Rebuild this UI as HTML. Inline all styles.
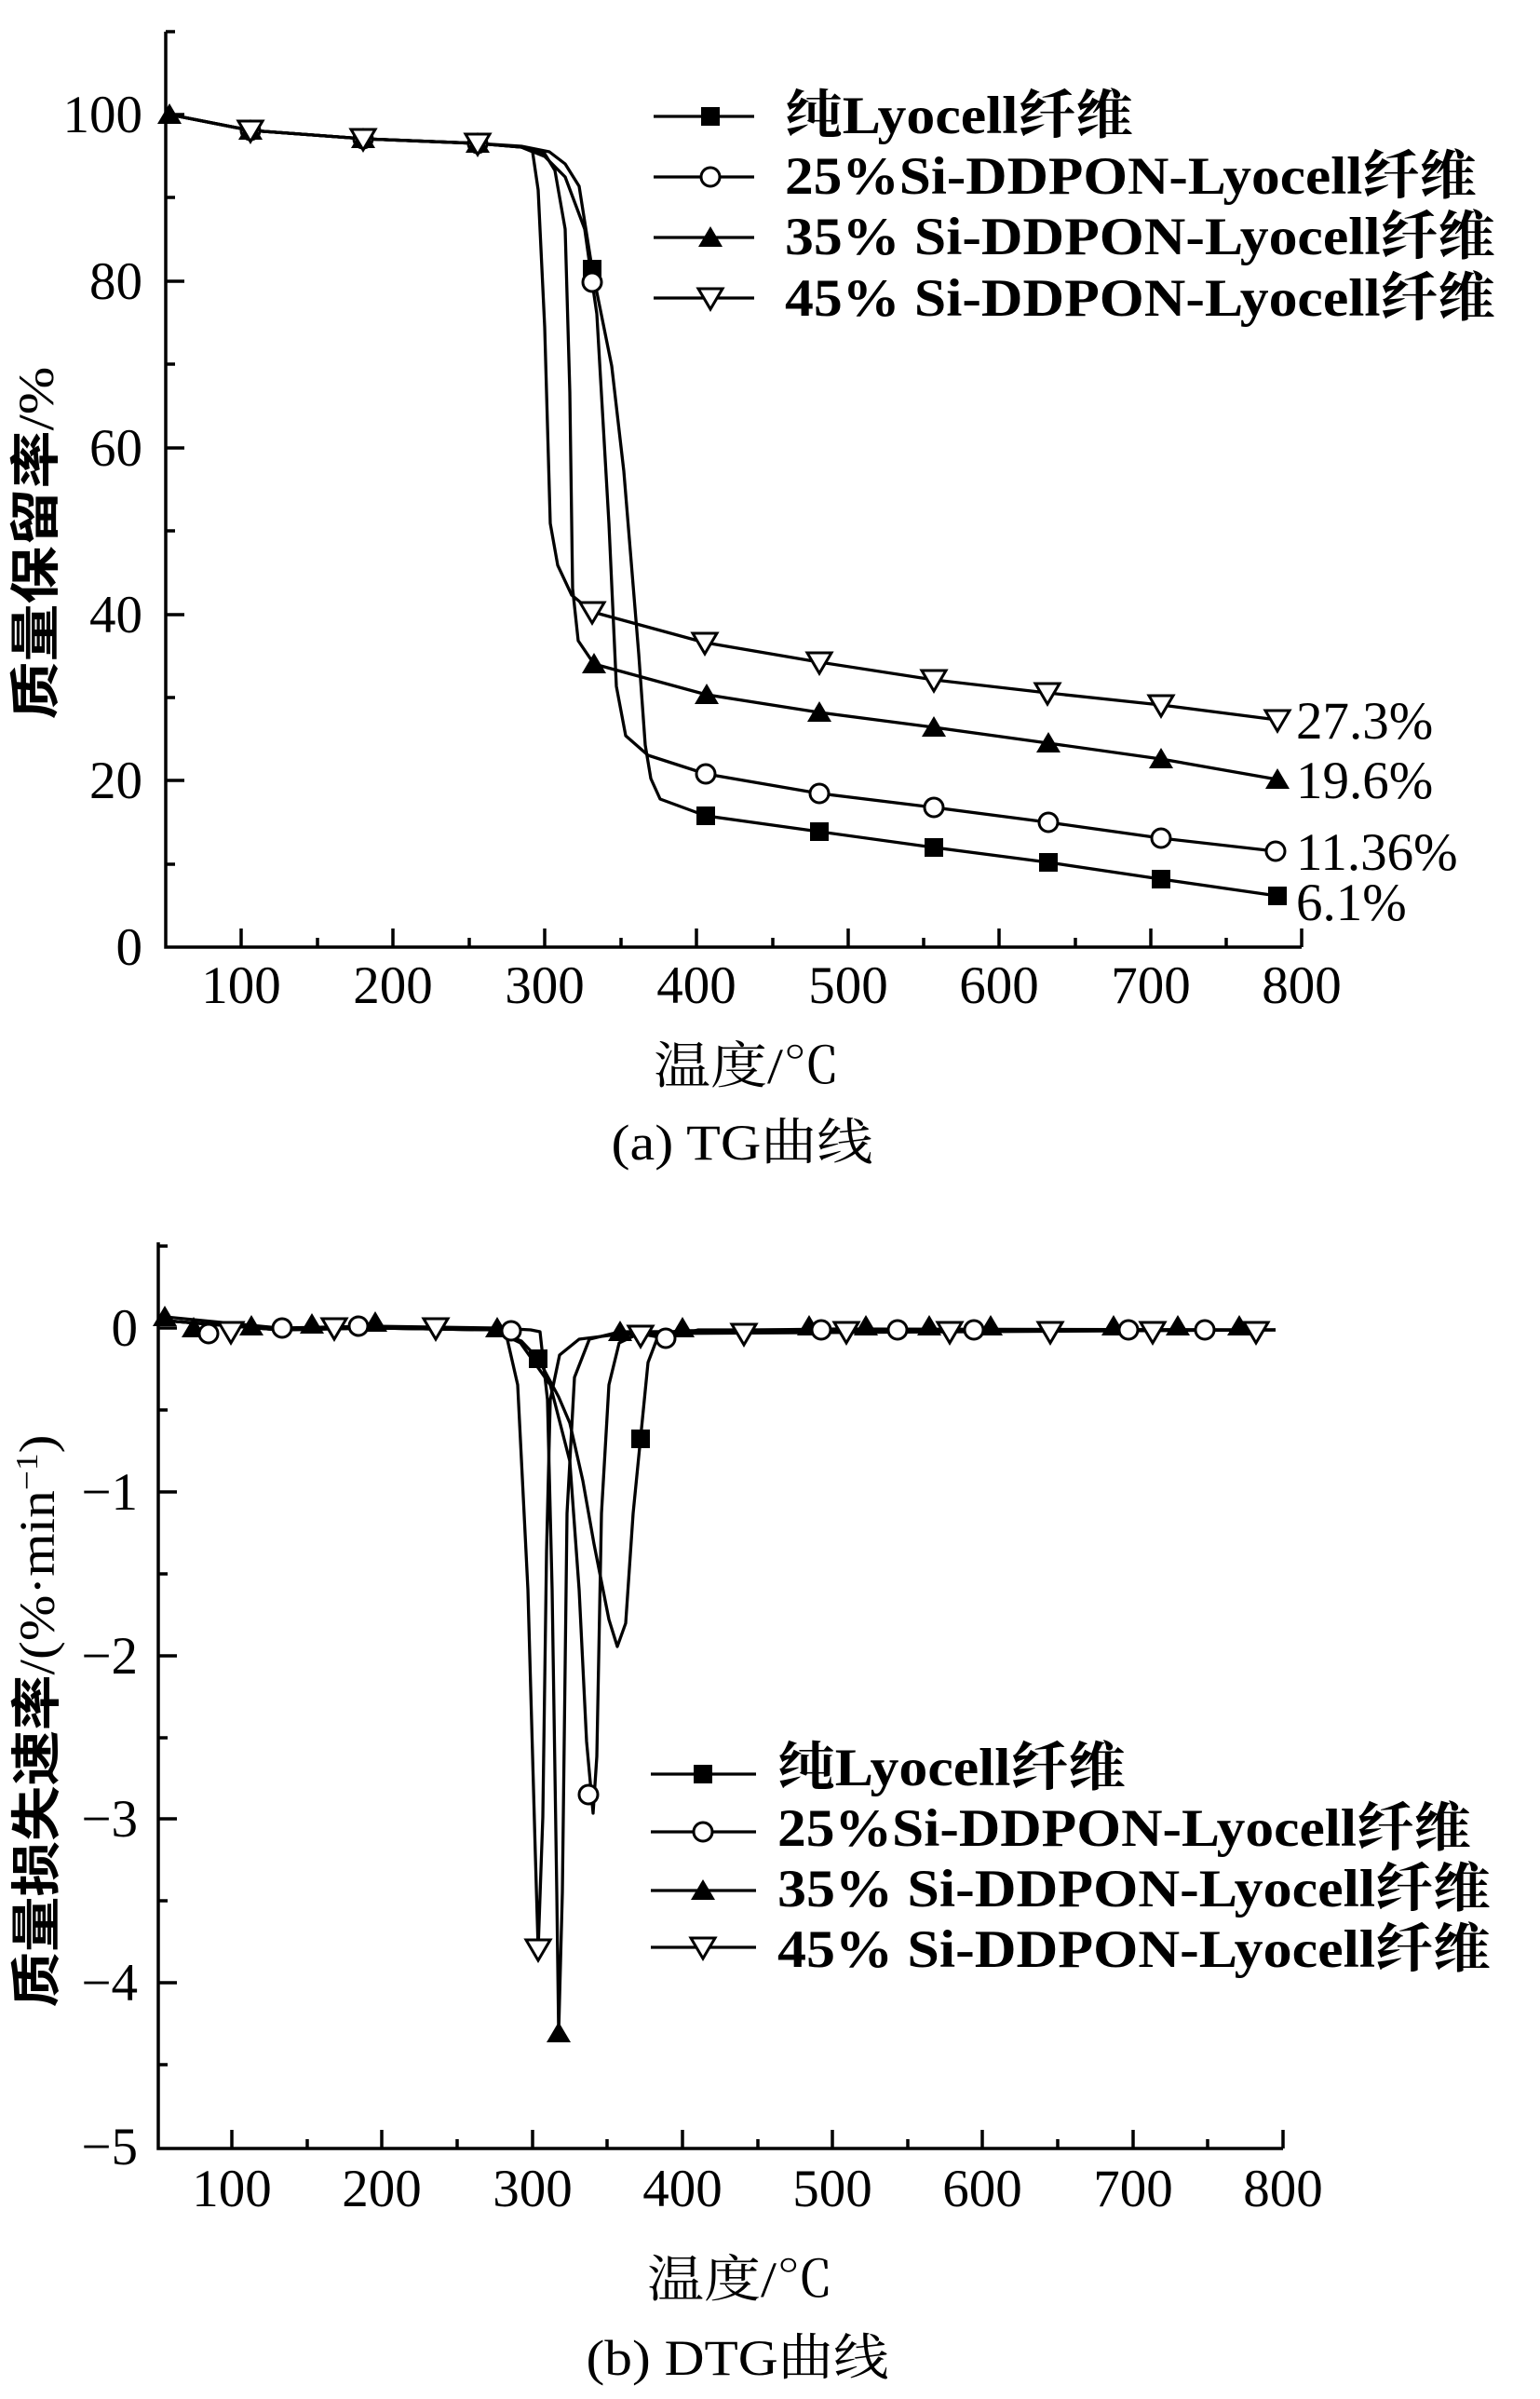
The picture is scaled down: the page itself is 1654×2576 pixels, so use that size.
<!DOCTYPE html>
<html><head><meta charset="utf-8"><style>
html,body{margin:0;padding:0;background:#fff;}
svg{display:block;}
.t{font-family:"Liberation Serif","Noto Serif CJK SC",serif;font-size:57px;fill:#000;}
.lg{font-family:"Liberation Serif","Noto Serif CJK SC",serif;font-weight:bold;font-size:57px;fill:#000;}
.cj{font-family:"Liberation Serif","Noto Serif CJK SC",serif;font-size:54px;fill:#000;}
.yt{font-family:"Liberation Serif","Noto Sans CJK SC",sans-serif;font-size:54px;font-weight:bold;fill:#000;}
.ys{font-family:"Liberation Serif",serif;font-weight:normal;font-size:54px;}
</style></head><body>
<svg width="1654" height="2576" viewBox="0 0 1654 2576" xmlns="http://www.w3.org/2000/svg">
<defs>
<rect id="sq" x="-10" y="-10" width="20" height="20" fill="#000"/>
<circle id="ci" r="10" fill="#fff" stroke="#000" stroke-width="3"/>
<polygon id="tu" points="0,-12 13,10 -13,10" fill="#000"/>
<polygon id="td" points="-13,-10 13,-10 0,12" fill="#fff" stroke="#000" stroke-width="3" stroke-linejoin="miter"/>
</defs>

<!-- ================= TOP (TG) ================= -->
<g stroke="#000" stroke-width="3.5" fill="none">
<polyline points="178,34 178,1017 1398,1017"/>
</g>
<g stroke="#000" stroke-width="3.5">
<line x1="259" y1="1017" x2="259" y2="997"/><line x1="422" y1="1017" x2="422" y2="997"/><line x1="585" y1="1017" x2="585" y2="997"/><line x1="748" y1="1017" x2="748" y2="997"/><line x1="911" y1="1017" x2="911" y2="997"/><line x1="1073" y1="1017" x2="1073" y2="997"/><line x1="1236" y1="1017" x2="1236" y2="997"/><line x1="1398" y1="1017" x2="1398" y2="997"/>
<line x1="341" y1="1017" x2="341" y2="1007"/><line x1="504" y1="1017" x2="504" y2="1007"/><line x1="667" y1="1017" x2="667" y2="1007"/><line x1="830" y1="1017" x2="830" y2="1007"/><line x1="992" y1="1017" x2="992" y2="1007"/><line x1="1155" y1="1017" x2="1155" y2="1007"/><line x1="1317" y1="1017" x2="1317" y2="1007"/>
<line x1="178" y1="123" x2="198" y2="123"/><line x1="178" y1="302" x2="198" y2="302"/><line x1="178" y1="481" x2="198" y2="481"/><line x1="178" y1="660" x2="198" y2="660"/><line x1="178" y1="838" x2="198" y2="838"/>
<line x1="178" y1="34" x2="188" y2="34"/><line x1="178" y1="212" x2="188" y2="212"/><line x1="178" y1="391" x2="188" y2="391"/><line x1="178" y1="570" x2="188" y2="570"/><line x1="178" y1="749" x2="188" y2="749"/><line x1="178" y1="928" x2="188" y2="928"/>
</g>
<g class="t" text-anchor="middle">
<text x="259" y="1077">100</text><text x="422" y="1077">200</text><text x="585" y="1077">300</text><text x="748" y="1077">400</text><text x="911" y="1077">500</text><text x="1073" y="1077">600</text><text x="1236" y="1077">700</text><text x="1398" y="1077">800</text>
</g>
<g class="t" text-anchor="end">
<text x="153" y="142">100</text><text x="153" y="321">80</text><text x="153" y="500">60</text><text x="153" y="679">40</text><text x="153" y="857">20</text><text x="153" y="1036">0</text>
</g>
<text class="yt" transform="translate(57,583) rotate(-90)" text-anchor="middle" textLength="379" lengthAdjust="spacingAndGlyphs">质量保留率<tspan class="ys">/%</tspan></text>

<g stroke="#000" stroke-width="3.3" fill="none" stroke-linejoin="round">
<polyline points="182,123 269,140 390,149 513,154 560,157 590,163 607,176 622,200 636,289 657,393 670,506 686,702 693,800 699,836 709,858 758,876 880,893 1003,910 1126,926 1247,944 1372,962"/>
<polyline points="182,123 269,140 390,149 513,154 560,158 585,168 607,190 628,246 636,303 641,337 654,562 662,737 672,790 696,811 758,831 880,852 1003,867 1126,883 1247,900 1370,914"/>
<polyline points="182,123 269,140 390,149 513,154 560,158 585,165 596,183 607,246 612,421 615,632 621,688 638,713 759,746 880,765 1003,781 1126,798 1247,815 1372,837"/>
<polyline points="182,123 269,140 390,149 513,154 560,158 572,163 578,204 585,351 591,562 599,607 614,639 636,657 757,690 880,711 1003,730 1125,744 1247,757 1372,773"/>
</g>
<use href="#tu" x="182" y="123"/>
<use href="#sq" x="636" y="289"/><use href="#sq" x="758" y="876"/><use href="#sq" x="880" y="893"/><use href="#sq" x="1003" y="910"/><use href="#sq" x="1126" y="926"/><use href="#sq" x="1247" y="944"/><use href="#sq" x="1372" y="962"/>
<use href="#ci" x="269" y="140"/><use href="#ci" x="390" y="149"/><use href="#ci" x="513" y="154"/><use href="#ci" x="636" y="303"/><use href="#ci" x="758" y="831"/><use href="#ci" x="880" y="852"/><use href="#ci" x="1003" y="867"/><use href="#ci" x="1126" y="883"/><use href="#ci" x="1247" y="900"/><use href="#ci" x="1370" y="914"/>
<use href="#tu" x="269" y="140"/><use href="#tu" x="390" y="149"/><use href="#tu" x="513" y="154"/><use href="#tu" x="638" y="713"/><use href="#tu" x="759" y="746"/><use href="#tu" x="880" y="765"/><use href="#tu" x="1003" y="781"/><use href="#tu" x="1126" y="798"/><use href="#tu" x="1247" y="815"/><use href="#tu" x="1372" y="837"/>
<use href="#td" x="269" y="140"/><use href="#td" x="390" y="149"/><use href="#td" x="513" y="154"/><use href="#td" x="636" y="657"/><use href="#td" x="757" y="690"/><use href="#td" x="880" y="711"/><use href="#td" x="1003" y="730"/><use href="#td" x="1125" y="744"/><use href="#td" x="1247" y="757"/><use href="#td" x="1372" y="773"/>
<g class="t">
<text x="1392" y="793">27.3%</text><text x="1392" y="857">19.6%</text><text x="1392" y="934">11.36%</text><text x="1392" y="988">6.1%</text>
</g>
<g stroke="#000" stroke-width="3.3">
<line x1="702" y1="125" x2="810" y2="125"/><line x1="702" y1="190" x2="810" y2="190"/><line x1="702" y1="255" x2="810" y2="255"/><line x1="702" y1="320" x2="810" y2="320"/>
</g>
<use href="#sq" x="763" y="125"/><use href="#ci" x="763" y="190"/><use href="#tu" x="763" y="255"/><use href="#td" x="763" y="320"/>
<g class="lg">
<text x="843" y="143" textLength="374" lengthAdjust="spacingAndGlyphs">纯Lyocell纤维</text>
<text x="843" y="208" textLength="743" lengthAdjust="spacingAndGlyphs">25%Si-DDPON-Lyocell纤维</text>
<text x="843" y="273" textLength="763" lengthAdjust="spacingAndGlyphs">35% Si-DDPON-Lyocell纤维</text>
<text x="843" y="339" textLength="763" lengthAdjust="spacingAndGlyphs">45% Si-DDPON-Lyocell纤维</text>
</g>
<text class="cj" x="802" y="1163" text-anchor="middle" textLength="200" lengthAdjust="spacingAndGlyphs">温度/℃</text>
<text class="cj" x="797" y="1245" text-anchor="middle" textLength="281" lengthAdjust="spacingAndGlyphs">(a) TG曲线</text>

<!-- ================= BOTTOM (DTG) ================= -->
<g stroke="#000" stroke-width="3.5" fill="none">
<polyline points="170,1334 170,2307 1378,2307"/>
</g>
<g stroke="#000" stroke-width="3.5">
<line x1="249" y1="2307" x2="249" y2="2287"/><line x1="410" y1="2307" x2="410" y2="2287"/><line x1="572" y1="2307" x2="572" y2="2287"/><line x1="733" y1="2307" x2="733" y2="2287"/><line x1="894" y1="2307" x2="894" y2="2287"/><line x1="1055" y1="2307" x2="1055" y2="2287"/><line x1="1217" y1="2307" x2="1217" y2="2287"/><line x1="1378" y1="2307" x2="1378" y2="2287"/>
<line x1="330" y1="2307" x2="330" y2="2297"/><line x1="491" y1="2307" x2="491" y2="2297"/><line x1="652" y1="2307" x2="652" y2="2297"/><line x1="814" y1="2307" x2="814" y2="2297"/><line x1="975" y1="2307" x2="975" y2="2297"/><line x1="1136" y1="2307" x2="1136" y2="2297"/><line x1="1297" y1="2307" x2="1297" y2="2297"/>
<line x1="170" y1="1426" x2="190" y2="1426"/><line x1="170" y1="1602" x2="190" y2="1602"/><line x1="170" y1="1778" x2="190" y2="1778"/><line x1="170" y1="1953" x2="190" y2="1953"/><line x1="170" y1="2129" x2="190" y2="2129"/>
<line x1="170" y1="1338" x2="180" y2="1338"/><line x1="170" y1="1514" x2="180" y2="1514"/><line x1="170" y1="1690" x2="180" y2="1690"/><line x1="170" y1="1866" x2="180" y2="1866"/><line x1="170" y1="2041" x2="180" y2="2041"/><line x1="170" y1="2217" x2="180" y2="2217"/>
</g>
<g class="t" text-anchor="middle">
<text x="249" y="2369">100</text><text x="410" y="2369">200</text><text x="572" y="2369">300</text><text x="733" y="2369">400</text><text x="894" y="2369">500</text><text x="1055" y="2369">600</text><text x="1217" y="2369">700</text><text x="1378" y="2369">800</text>
</g>
<g class="t" text-anchor="end">
<text x="148" y="1445">0</text><text x="148" y="1621">−1</text><text x="148" y="1797">−2</text><text x="148" y="1972">−3</text><text x="148" y="2148">−4</text><text x="148" y="2324">−5</text>
</g>
<text class="yt" transform="translate(58,1848) rotate(-90)" text-anchor="middle" textLength="615" lengthAdjust="spacingAndGlyphs">质量损失速率<tspan class="ys">/(%·min<tspan font-size="34" dy="-18">−1</tspan><tspan dy="18">)</tspan></tspan></text>

<g stroke="#000" stroke-width="3.3" fill="none" stroke-linejoin="round">
<polyline points="177,1418 300,1428 400,1426 530,1428 543,1433 560,1440 578,1459 600,1500 612,1528 626,1590 638,1658 654,1739 663,1768 672,1743 680,1625 688,1544 696,1463 707,1434 728,1429 900,1427 1370,1428"/>
<polyline points="177,1418 300,1428 400,1426 530,1428 559,1442 591,1487 612,1569 622,1707 630,1870 637,1947 641,1886 646,1625 654,1487 665,1442 686,1432 715,1437 750,1428 1370,1428"/>
<polyline points="177,1414 300,1426 400,1424 534,1426 570,1428 580,1430 588,1503 593,1707 598,2032 600,2183 604,2032 609,1625 617,1479 633,1438 666,1430 1370,1428"/>
<polyline points="177,1418 300,1428 400,1426 530,1428 543,1430 556,1487 567,1707 575,1992 578,2093 583,1951 587,1666 591,1503 601,1455 622,1438 654,1434 700,1432 1370,1428"/>
</g>
<use href="#tu" x="177" y="1414"/><use href="#tu" x="208" y="1426"/><use href="#tu" x="270" y="1424"/><use href="#tu" x="335" y="1422"/><use href="#tu" x="403" y="1420"/><use href="#tu" x="534" y="1426"/><use href="#tu" x="600" y="2183"/><use href="#tu" x="666" y="1430"/><use href="#tu" x="733" y="1426"/><use href="#tu" x="869" y="1424"/><use href="#tu" x="930" y="1424"/><use href="#tu" x="998" y="1424"/><use href="#tu" x="1064" y="1424"/><use href="#tu" x="1196" y="1424"/><use href="#tu" x="1265" y="1424"/><use href="#tu" x="1331" y="1424"/>
<use href="#ci" x="224" y="1432"/><use href="#ci" x="303" y="1426"/><use href="#ci" x="385" y="1424"/><use href="#ci" x="549" y="1429"/><use href="#ci" x="632" y="1927"/><use href="#ci" x="715" y="1437"/><use href="#ci" x="882" y="1428"/><use href="#ci" x="964" y="1428"/><use href="#ci" x="1046" y="1428"/><use href="#ci" x="1212" y="1428"/><use href="#ci" x="1294" y="1428"/>
<use href="#td" x="248" y="1430"/><use href="#td" x="359" y="1426"/><use href="#td" x="468" y="1426"/><use href="#td" x="578" y="2093"/><use href="#td" x="688" y="1434"/><use href="#td" x="799" y="1432"/><use href="#td" x="909" y="1430"/><use href="#td" x="1020" y="1430"/><use href="#td" x="1128" y="1430"/><use href="#td" x="1238" y="1430"/><use href="#td" x="1349" y="1430"/>
<use href="#sq" x="578" y="1459"/><use href="#sq" x="688" y="1545"/>
<g stroke="#000" stroke-width="3.3">
<line x1="699" y1="1905" x2="812" y2="1905"/><line x1="699" y1="1967" x2="812" y2="1967"/><line x1="699" y1="2030" x2="812" y2="2030"/><line x1="699" y1="2091" x2="812" y2="2091"/>
</g>
<use href="#sq" x="755" y="1905"/><use href="#ci" x="755" y="1967"/><use href="#tu" x="755" y="2030"/><use href="#td" x="755" y="2091"/>
<g class="lg">
<text x="835" y="1917" textLength="374" lengthAdjust="spacingAndGlyphs">纯Lyocell纤维</text>
<text x="835" y="1982" textLength="745" lengthAdjust="spacingAndGlyphs">25%Si-DDPON-Lyocell纤维</text>
<text x="835" y="2047" textLength="766" lengthAdjust="spacingAndGlyphs">35% Si-DDPON-Lyocell纤维</text>
<text x="835" y="2112" textLength="766" lengthAdjust="spacingAndGlyphs">45% Si-DDPON-Lyocell纤维</text>
</g>
<text class="cj" x="795" y="2466" text-anchor="middle" textLength="200" lengthAdjust="spacingAndGlyphs">温度/℃</text>
<text class="cj" x="792" y="2550" text-anchor="middle" textLength="325" lengthAdjust="spacingAndGlyphs">(b) DTG曲线</text>
</svg>
</body></html>
